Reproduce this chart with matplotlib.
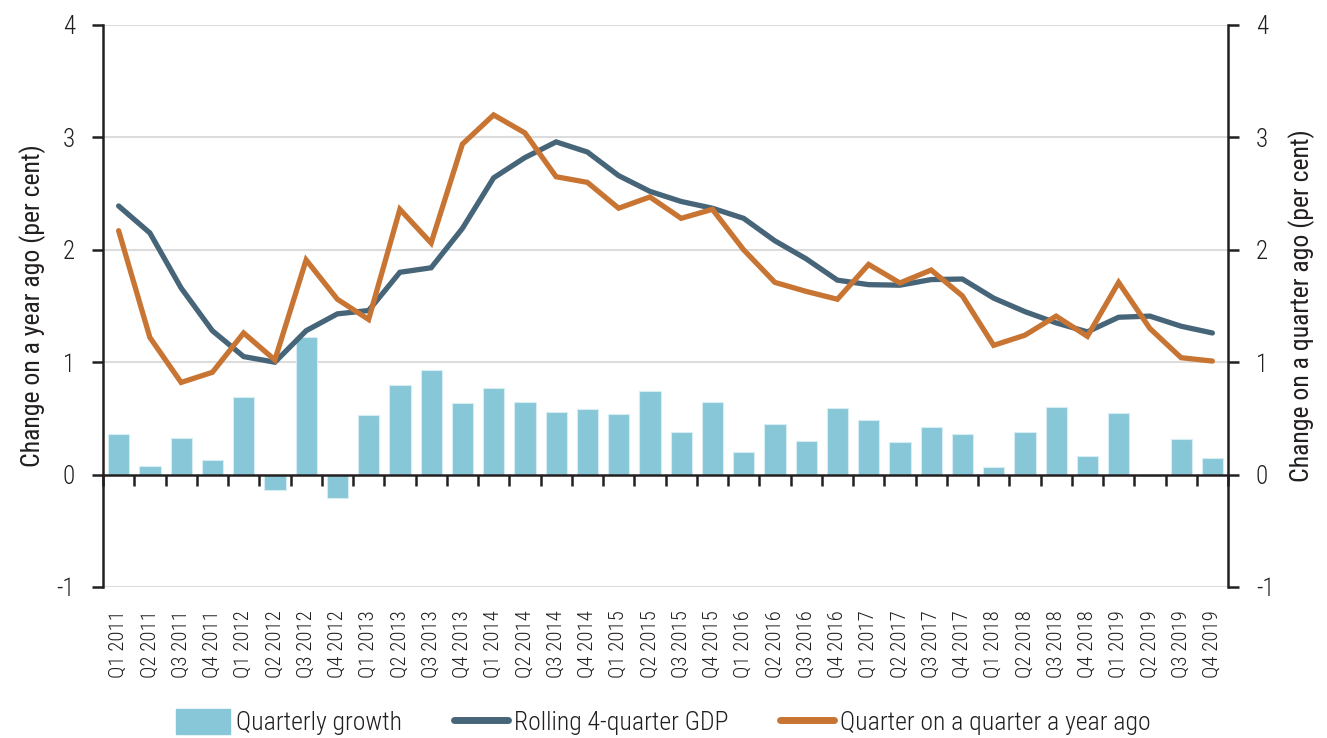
import matplotlib
matplotlib.use("Agg")
import matplotlib.pyplot as plt
from matplotlib import font_manager as fm
import numpy as np
from matplotlib.patches import Patch
from matplotlib.lines import Line2D

available = {f.name for f in fm.fontManager.ttflist}
font_choice = 'DejaVu Sans'
for cand in ['Roboto Condensed', 'Archivo Narrow', 'Fira Sans Condensed', 'Barlow Semi Condensed', 'Asap Condensed']:
    if cand in available:
        font_choice = cand
        break
plt.rcParams['font.family'] = [font_choice, 'DejaVu Sans']
plt.rcParams['font.weight'] = 'light'

quarters = [f"Q{q} {y}" for y in range(2011, 2020) for q in range(1, 5)]

quarterly_growth = [0.36, 0.08, 0.33, 0.13, 0.69, -0.14, 1.22, -0.21,
                    0.53, 0.80, 0.935, 0.64, 0.77, 0.65, 0.56, 0.58,
                    0.54, 0.74, 0.38, 0.65, 0.20, 0.45, 0.30, 0.59,
                    0.49, 0.29, 0.42, 0.36, 0.07, 0.38, 0.60, 0.165,
                    0.55, -0.015, 0.32, 0.15]

rolling_4q = [2.39, 2.15, 1.66, 1.28, 1.05, 1.00, 1.28, 1.43,
              1.46, 1.80, 1.84, 2.19, 2.64, 2.82, 2.96, 2.87,
              2.66, 2.52, 2.43, 2.37, 2.28, 2.08, 1.92, 1.73,
              1.69, 1.685, 1.735, 1.74, 1.57, 1.45, 1.35, 1.27,
              1.40, 1.41, 1.32, 1.26]

q_on_q_year_ago = [2.17, 1.22, 0.82, 0.91, 1.26, 1.02, 1.91, 1.56,
                   1.38, 2.36, 2.06, 2.94, 3.20, 3.04, 2.65, 2.60,
                   2.37, 2.47, 2.28, 2.36, 2.00, 1.71, 1.63, 1.56,
                   1.87, 1.705, 1.82, 1.59, 1.15, 1.24, 1.41, 1.23,
                   1.71, 1.30, 1.04, 1.01]

y_ticks = [-1, 0, 1, 2, 3, 4]

bar_color = '#87c7d7'
blue = '#476579'
orange = '#c87533'
grid_color = '#dcdcdc'
ink = '#231f20'

fig = plt.figure(figsize=(13.27, 7.38), dpi=100)
ax = fig.add_axes([103/1327, 1 - 587/738, (1228-103)/1327, (587-25)/738])

x = np.arange(len(quarters))
ax.bar(x, quarterly_growth, width=0.68, color=bar_color, edgecolor='#d6eef3', linewidth=0.8, zorder=2)
ax.plot(x, rolling_4q, color=blue, lw=3.8, zorder=3, solid_joinstyle='miter', solid_capstyle='round')
ax.plot(x, q_on_q_year_ago, color=orange, lw=3.8, zorder=4, solid_joinstyle='miter', solid_capstyle='round')

ax.set_xlim(-0.5, len(quarters) - 0.5)
ax.set_ylim(-1, 4)
ax.set_yticks(y_ticks)
ax.set_yticklabels([str(v) for v in y_ticks])
for v in y_ticks:
    if v != 0:
        ax.axhline(v, color=grid_color, lw=1.5, zorder=0)

# zero line with boundary ticks
ax.axhline(0, color=ink, lw=1.8, zorder=5)
sec = ax.secondary_xaxis(0.2)
sec.spines['bottom'].set_visible(False)
sec.set_xticks(np.arange(-0.5, len(quarters) + 0.5, 1.0))
sec.tick_params(axis='x', length=8, width=1.8, color=ink, labelbottom=False, direction='out')

ax.set_xticks(x)
ax.set_xticklabels(quarters, rotation=90, fontsize=15, color=ink)
ax.tick_params(axis='x', length=0, pad=17)
for s in ['top', 'bottom', 'right']:
    ax.spines[s].set_visible(False)
ax.spines['left'].set_color(ink)
ax.spines['left'].set_linewidth(1.8)
ax.tick_params(axis='y', length=8, width=1.8, color=ink, labelsize=18, labelcolor=ink, pad=12)
ax.set_ylabel('Change on a year ago (per cent)', fontsize=18.5, labelpad=8, color=ink)

ax2 = ax.twinx()
ax2.set_ylim(-1, 4)
ax2.set_yticks(y_ticks)
ax2.set_yticklabels([str(v) for v in y_ticks])
for s in ['top', 'bottom', 'left']:
    ax2.spines[s].set_visible(False)
ax2.spines['right'].set_color(ink)
ax2.spines['right'].set_linewidth(1.8)
ax2.tick_params(axis='y', length=8, width=1.8, color=ink, labelsize=18, labelcolor=ink, pad=12)
ax2.set_ylabel('Change on a quarter ago (per cent)', fontsize=18.5, labelpad=10, color=ink)

handles = [Patch(facecolor=bar_color, edgecolor=bar_color),
           Line2D([0], [0], color=blue, lw=5, solid_capstyle='round'),
           Line2D([0], [0], color=orange, lw=5, solid_capstyle='round')]
labels = ['Quarterly growth', 'Rolling 4-quarter GDP', 'Quarter on a quarter a year ago']
leg = fig.legend(handles, labels, loc='center', bbox_to_anchor=(0.5, 1 - 722/738), ncol=3,
                 frameon=False, fontsize=18.5, handlelength=2.1, handleheight=1.1,
                 handletextpad=0.25, columnspacing=2.0)
for t in leg.get_texts():
    t.set_color(ink)

fig.savefig('out.png', dpi=100)
